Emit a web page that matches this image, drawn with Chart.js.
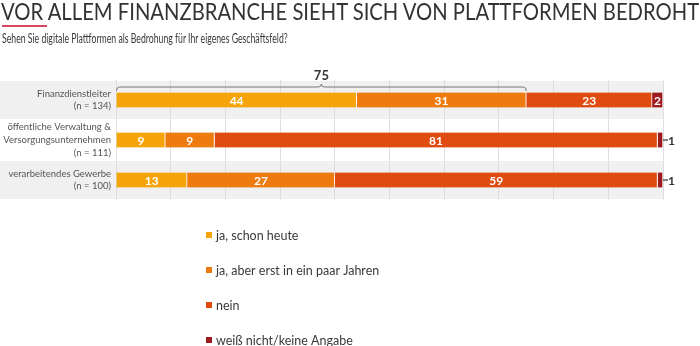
<!DOCTYPE html>
<html>
<head>
<meta charset="utf-8">
<script src="https://cdn.jsdelivr.net/npm/chart.js@4.4.0/dist/chart.umd.min.js"></script>
<style>
	html, body { margin: 0; padding: 0; background: #fff; }
	#wrap { position: relative; width: 700px; height: 346px; overflow: hidden; }
	#line-chartcanvas { position: absolute; left: 0; top: 0; }
	#title {
		position: absolute; left: 1px; top: 0px; white-space: nowrap;
		font-family: Lato, sans-serif; font-weight: 400; line-height: 22px;
		font-size: 24px; color: #333; transform-origin: 0 0;
	}
	#bar { position: absolute; left: 2px; top: 25px; width: 45px; height: 2px; background: #d9485f; }
	#subtitle {
		position: absolute; left: 2px; top: 31px; white-space: nowrap;
		font-family: Lato, sans-serif; font-size: 12.5px; color: #3a3a3a;
		transform-origin: 0 0;
	}
</style>
</head>
<body>
<div id="wrap">
	<canvas id="line-chartcanvas" width="700" height="346"></canvas>
	<div id="title">VOR ALLEM FINANZBRANCHE SIEHT SICH VON PLATTFORMEN BEDROHT</div>
	<div id="bar"></div>
	<div id="subtitle">Sehen Sie digitale Plattformen als Bedrohung für Ihr eigenes Geschäftsfeld?</div>
</div>
<script>
// data (percent)
var categories = [
	["Finanzdienstleiter", "(n = 134)"],
	["öffentliche Verwaltung &", "Versorgungsunternehmen", "(n = 111)"],
	["verarbeitendes Gewerbe", "(n = 100)"]
];
var seriesNames = ["ja, schon heute", "ja, aber erst in ein paar Jahren", "nein", "weiß nicht/keine Angabe"];
var jaHeute = [44, 9, 13];
var jaSpaeter = [31, 9, 27];
var nein = [23, 81, 59];
var weissNicht = [2, 1, 1];
var bracketTotal = 75; // ja, schon heute + ja, spaeter (Finanz)
var xTicks = [0, 10, 20, 30, 40, 50, 60, 70, 80, 90, 100];

var colors = ["#f6a40a", "#ee7b0d", "#e04b10", "#9c1b1f"];

// fit the header lines to their widths
function fitWidth(id, w) {
	var el = document.getElementById(id);
	el.style.transform = "scaleX(" + (w / el.scrollWidth) + ")";
}
fitWidth("title", 698);
fitWidth("subtitle", 286);

//row backgrounds, grey for 1st and 3rd row
var bandPlugin = {
	id: "bands",
	beforeDraw: function (chart) {
		var c = chart.ctx, y = chart.scales.y, area = chart.chartArea;
		var step = (area.bottom - area.top) / categories.length;
		c.save();
		c.fillStyle = "#f0f0f0";
		for (var i = 0; i < categories.length; i++) {
			if (i % 2 == 1) continue;
			var mid = y.getPixelForValue(i);
			c.fillRect(0, mid - step / 2 + 1, area.right, step - 2);
		}
		c.restore();
	}
};

//value labels, the bracket and the legend
var labelPlugin = {
	id: "labels",
	afterDatasetsDraw: function (chart) {
		var c = chart.ctx;
		c.save();
		c.textBaseline = "middle";
		chart.data.datasets.forEach(function (ds, di) {
			var meta = chart.getDatasetMeta(di);
			meta.data.forEach(function (bar, i) {
				var v = ds.data[i];
				var cx = (bar.x + bar.base) / 2;
				if (v >= 2) {
					c.font = "bold 12px Lato";
					c.fillStyle = "#fff";
					c.textAlign = "center";
					c.fillText(v, cx, bar.y + 1);
				} else {
					c.strokeStyle = "#333";
					c.lineWidth = 1.2;
					c.beginPath();
					c.moveTo(bar.x, bar.y);
					c.lineTo(bar.x + 5, bar.y);
					c.stroke();
					c.font = "bold 12px Lato";
					c.fillStyle = "#333";
					c.textAlign = "left";
					c.fillText(v, bar.x + 5, bar.y + 1);
				}
			});
		});

		// bracket over the first row
		var x = chart.scales.x;
		var b0 = chart.getDatasetMeta(0).data[0];
		var x0 = x.getPixelForValue(0) + 0.5, x1 = x.getPixelForValue(bracketTotal);
		var by = b0.y - b0.height / 2 - 5.5;
		var mid = (x0 + x1) / 2;
		c.strokeStyle = "#777";
		c.lineWidth = 1;
		c.beginPath();
		c.moveTo(x0, by + 4);
		c.quadraticCurveTo(x0, by, x0 + 3, by);
		c.lineTo(mid - 3, by);
		c.quadraticCurveTo(mid, by, mid, by - 3);
		c.quadraticCurveTo(mid, by, mid + 3, by);
		c.lineTo(x1 - 3, by);
		c.quadraticCurveTo(x1, by, x1, by + 4);
		c.stroke();
		c.font = "bold 13px Lato";
		c.fillStyle = "#333";
		c.textAlign = "center";
		c.fillText(bracketTotal, mid, by - 11);

		// legend, one entry per line
		c.textAlign = "left";
		c.font = "12.5px Lato";
		for (var k = 0; k < seriesNames.length; k++) {
			var ly = 235 + k * 35;
			c.fillStyle = colors[k];
			c.fillRect(206, ly - 3, 6, 6);
			c.fillStyle = "#3a3a3a";
			c.fillText(seriesNames[k], 216, ly + 1);
		}
		c.restore();
	}
};

//get canvas
var ctx = document.getElementById("line-chartcanvas");

var data = {
	labels: categories,
	datasets: [
		{ label: seriesNames[0], data: jaHeute, backgroundColor: colors[0] },
		{ label: seriesNames[1], data: jaSpaeter, backgroundColor: colors[1] },
		{ label: seriesNames[2], data: nein, backgroundColor: colors[2] },
		{ label: seriesNames[3], data: weissNicht, backgroundColor: colors[3] }
	].map(function (d) {
		d.borderColor = "#fff";
		d.borderWidth = { left: 0, right: 1, top: 0, bottom: 0 };
		d.borderSkipped = false;
		d.barThickness = 15;
		return d;
	})
};

var options = {
	indexAxis: "y",
	responsive: false,
	animation: false,
	layout: { padding: { top: 80, bottom: 146, right: 37, left: 0 } },
	plugins: {
		legend: { display: false },
		tooltip: { enabled: false }
	},
	scales: {
		x: {
			stacked: true,
			min: 0,
			max: 100,
			afterBuildTicks: function (axis) {
				axis.ticks = xTicks.map(function (v) { return { value: v }; });
			},
			ticks: { display: false },
			grid: { color: "#dedede", drawTicks: false },
			border: { display: false }
		},
		y: {
			stacked: true,
			afterFit: function (axis) { axis.width = 116; },
			ticks: {
				color: "#555",
				padding: 5,
				autoSkip: false,
				font: { family: "Lato", size: 9.5, lineHeight: 1.35 }
			},
			grid: { display: false, drawTicks: false },
			border: { display: false }
		}
	}
};

var chart = new Chart(ctx, {
	type: "bar",
	data: data,
	options: options,
	plugins: [bandPlugin, labelPlugin]
});
</script>
</body>
</html>
